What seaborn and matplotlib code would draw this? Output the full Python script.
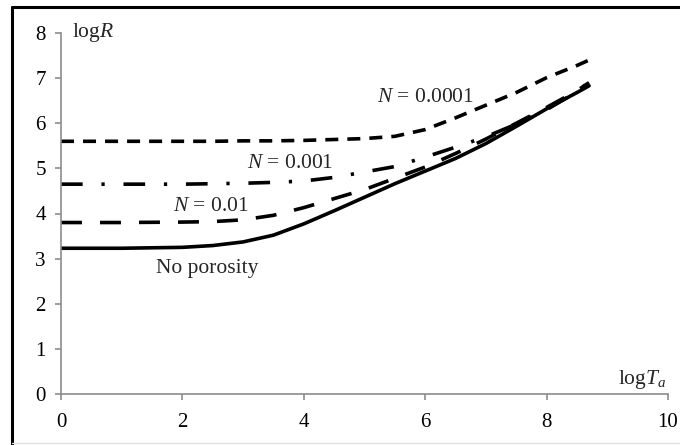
import matplotlib
matplotlib.use("Agg")
import matplotlib.pyplot as plt
from matplotlib.lines import Line2D
import numpy as np
import pandas as pd
import seaborn as sns

# ---- data ----
log_ta = [0, 1, 2, 2.5, 3, 3.5, 4, 4.5, 5, 5.5, 6, 6.5, 7, 7.5, 8, 8.5, 8.7]
no_porosity = [3.23, 3.23, 3.25, 3.29, 3.37, 3.52, 3.77, 4.06, 4.36, 4.66, 4.94, 5.22, 5.55, 5.93, 6.32, 6.68, 6.83]
n_0_01 = [3.80, 3.80, 3.81, 3.82, 3.86, 3.96, 4.13, 4.33, 4.53, 4.78, 5.03, 5.33, 5.65, 6.00, 6.35, 6.72, 6.90]
n_0_001 = [4.65, 4.65, 4.65, 4.66, 4.67, 4.69, 4.72, 4.80, 4.92, 5.04, 5.25, 5.47, 5.70, 5.98, 6.30, 6.70, 6.92]
n_0_0001 = [5.60, 5.60, 5.60, 5.60, 5.61, 5.61, 5.62, 5.64, 5.66, 5.71, 5.86, 6.12, 6.40, 6.68, 7.01, 7.28, 7.40]

series_names = ["No porosity", "N = 0.01", "N = 0.001", "N = 0.0001"]
series_values = [no_porosity, n_0_01, n_0_001, n_0_0001]
x_ticks = [0, 2, 4, 6, 8, 10]
y_ticks = [0, 1, 2, 3, 4, 5, 6, 7, 8]

df = pd.concat(
    [pd.DataFrame({"logTa": log_ta, "logR": v, "series": n}) for n, v in zip(series_names, series_values)],
    ignore_index=True,
)

sns.set_theme(style="ticks")
plt.rcParams["font.family"] = ["Liberation Serif", "DejaVu Serif"]
plt.rcParams["mathtext.fontset"] = "custom"
plt.rcParams["mathtext.rm"] = "Liberation Serif"
plt.rcParams["mathtext.it"] = "Liberation Serif:italic"

fig = plt.figure(figsize=(6.8, 4.45), dpi=100)
ax = fig.add_axes([61 / 680, 1 - 394 / 445, 607 / 680, 361 / 445])

lw = 2.6
dash_styles = {
    "No porosity": "",
    "N = 0.01": (5.8, 5.0),
    "N = 0.001": (6.0, 5.2, 0.9, 5.2),
    "N = 0.0001": (3.6, 2.5),
}
sns.lineplot(
    data=df, x="logTa", y="logR", style="series", dashes=dash_styles,
    color="black", linewidth=lw, estimator=None, sort=False, legend=False, ax=ax,
)

ax.set_xlim(0, 10)
ax.set_ylim(0, 8)
ax.set_xticks(x_ticks)
ax.set_yticks(y_ticks)
ax.set_xlabel("")
ax.set_ylabel("")

gray = "#8c8c8c"
for s in ["top", "right"]:
    ax.spines[s].set_visible(False)
for s in ["left", "bottom"]:
    ax.spines[s].set_color(gray)
    ax.spines[s].set_linewidth(1.2)
ax.tick_params(axis="both", direction="out", color=gray, width=1.2, length=4,
               labelsize=15, labelcolor="black")
ax.tick_params(axis="x", pad=10)
ax.tick_params(axis="y", pad=7)

fs = 15.5
ax.text(0.18, 8.0, r"log$\mathit{R}$", fontsize=fs, ha="left", va="center")
ax.text(5.20, 6.56, r"$\mathit{N}$ = 0.0001", fontsize=fs, ha="left", va="center")
ax.text(3.06, 5.11, r"$\mathit{N}$ = 0.001", fontsize=fs, ha="left", va="center")
ax.text(1.85, 4.15, r"$\mathit{N}$ = 0.01", fontsize=fs, ha="left", va="center")
ax.text(1.57, 2.79, "No porosity", fontsize=fs, ha="left", va="center")
ax.text(9.97, 0.22, r"log$\mathit{T}_{\mathit{a}}$", fontsize=fs, ha="right", va="baseline")

# figure frame
fig.add_artist(Line2D([12 / 680, 12 / 680], [0, 1 - 7 / 445], color="black", lw=2.2, transform=fig.transFigure))
fig.add_artist(Line2D([12 / 680, 1], [1 - 7 / 445, 1 - 7 / 445], color="black", lw=2.2, transform=fig.transFigure))
fig.add_artist(Line2D([12 / 680, 1], [1 - 443 / 445, 1 - 443 / 445], color="#e0e0e0", lw=1.0, transform=fig.transFigure))

fig.savefig("out.png", dpi=100, facecolor="white")
